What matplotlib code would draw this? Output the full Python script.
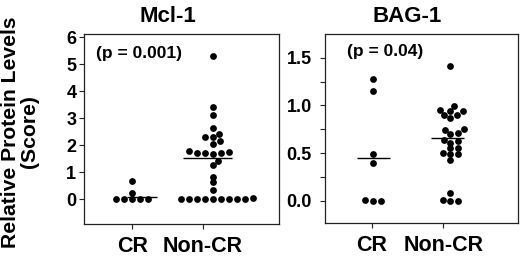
import numpy as np
import matplotlib
matplotlib.use("Agg")
import matplotlib.pyplot as plt

plt.rcParams['font.family'] = ['Liberation Sans', 'DejaVu Sans']
plt.rcParams['font.weight'] = 'bold'

# ---------------- data ----------------
categories = ["CR", "Non-CR"]

mcl1_cr = [0, 0, 0, 0, 0, 0.25, 0.68]
mcl1_noncr = [0, 0, 0, 0, 0, 0, 0, 0, 0, 0.04,
              0.35, 0.63, 0.84, 1.27, 1.42,
              1.67, 1.70, 1.73, 1.73, 1.74, 1.77,
              2.05, 2.16, 2.30, 2.32, 2.42,
              2.65, 3.12, 3.43, 5.31]
mcl1_lines = [0.10, 1.54]
mcl1_title = "Mcl-1"
mcl1_p = "(p = 0.001)"
mcl1_yticks = [0, 1, 2, 3, 4, 5, 6]

bag1_cr = [0, 0, 0.01, 0.40, 0.49, 1.15, 1.28]
bag1_noncr = [0, 0, 0.01, 0.08, 0.43,
              0.49, 0.49, 0.50, 0.55, 0.55,
              0.61, 0.63, 0.64, 0.70, 0.71, 0.74, 0.75,
              0.87, 0.90, 0.90, 0.94, 0.94, 0.95, 0.99, 1.41]
bag1_lines = [0.45, 0.66]
bag1_title = "BAG-1"
bag1_p = "(p = 0.04)"
bag1_yticks = [0.0, 0.5, 1.0, 1.5]
bag1_yticklabels = ["0.0", "0.5", "1.0", "1.5"]
bag1_minor = [0.25, 0.75, 1.25]

ylabel = "Relative Protein Levels\n(Score)"

# ---------------- layout ----------------
W, H = 520, 260
fig = plt.figure(figsize=(W / 100, H / 100), dpi=100)


def px_axes(x0, y0, x1, y1):
    return fig.add_axes([x0 / W, 1 - y1 / H, (x1 - x0) / W, (y1 - y0) / H])


def swarm(values, ax, center, hsep=8.0, vsep=5.5):
    """simple beeswarm in pixel space; returns x data positions"""
    trans = ax.transData
    order = np.argsort(values, kind="stable")
    placed = []
    xs = np.zeros(len(values))
    x0p = trans.transform((center, 0))[0]
    for i in order:
        yp = trans.transform((center, values[i]))[1]
        cands = [0.0]
        for (xo, yo) in placed:
            dy = abs(yp - yo)
            if dy < vsep:
                dx = hsep * np.sqrt(1 - (dy / vsep) ** 2)
                cands += [xo + dx, xo - dx]
        cands = sorted(cands, key=lambda c: (abs(c), -c))
        chosen = cands[-1]
        for c in cands:
            ok = True
            for (xo, yo) in placed:
                dy = abs(yp - yo)
                if dy < vsep:
                    need = hsep * np.sqrt(1 - (dy / vsep) ** 2)
                    if abs(c - xo) < need - 1e-6:
                        ok = False
                        break
            if ok:
                chosen = c
                break
        placed.append((chosen, yp))
        xs[i] = trans.inverted().transform((x0p + chosen, yp))[0]
    return xs


def panel(ax, groups, lines, title, ptext, ptxt_pos, shifts, line_ext,
          yticks, yticklabels=None, minor=None, labelpad=2):
    for s in ax.spines.values():
        s.set_linewidth(0.9)
        s.set_color("#222222")
    ax.set_xticks([1, 2])
    ax.set_xticklabels(categories, fontsize=15.5, fontweight="bold")
    ax.set_yticks(yticks)
    if yticklabels is not None:
        ax.set_yticklabels(yticklabels)
    if minor is not None:
        ax.set_yticks(minor, minor=True)
    ax.tick_params(axis="y", which="both", direction="out", length=3.5,
                   width=0.8, labelsize=13, pad=labelpad, color="#222222")
    ax.tick_params(axis="x", direction="out", length=3.5, width=0.8,
                   pad=5, color="#222222")
    for lab in ax.get_yticklabels():
        lab.set_fontweight("bold")
    fig.canvas.draw()
    unit = ax.transData.transform((2, 0))[0] - ax.transData.transform((1, 0))[0]
    for k, vals in enumerate(groups):
        c = k + 1 + shifts[k] / unit
        xs = swarm(vals, ax, c)
        ax.scatter(xs, vals, s=24, color="black", linewidths=0, zorder=3)
        l0, l1 = line_ext[k]
        ax.plot([k + 1 + l0 / unit, k + 1 + l1 / unit], [lines[k]] * 2,
                color="black", lw=1.0, solid_capstyle="butt", zorder=2)
    ax.text(1.5, 1.062, title, transform=ax.get_xaxis_transform(),
            ha="center", va="baseline", fontsize=16, fontweight="bold")
    ax.text(ptxt_pos[0], ptxt_pos[1], ptext, transform=ax.transAxes,
            ha="center", va="center", fontsize=12.5, fontweight="bold")


ax1 = px_axes(84, 34, 279, 224)
ax1.set_xlim(0.314, 3.08)
ax1.set_ylim(-0.915, 6.12)
panel(ax1, [mcl1_cr, mcl1_noncr], mcl1_lines, mcl1_title, mcl1_p,
      (0.28, 0.895), shifts=[0, 10], line_ext=[(-5, 25), (-20, 29)],
      yticks=mcl1_yticks, labelpad=2)

ax2 = px_axes(325, 34, 518, 223)
ax2.set_xlim(0.348, 3.04)
ax2.set_ylim(-0.234, 1.749)
panel(ax2, [bag1_cr, bag1_noncr], bag1_lines, bag1_title, bag1_p,
      (0.31, 0.91), shifts=[1, 7], line_ext=[(-15, 18), (-12, 21)],
      yticks=bag1_yticks, yticklabels=bag1_yticklabels,
      minor=bag1_minor, labelpad=6)

fig.text(20 / W, 128 / H, ylabel, rotation=90, ha="center", va="center",
         fontsize=15.2, fontweight="bold", multialignment="center",
         linespacing=1.05)

fig.savefig("out.png", dpi=100)
